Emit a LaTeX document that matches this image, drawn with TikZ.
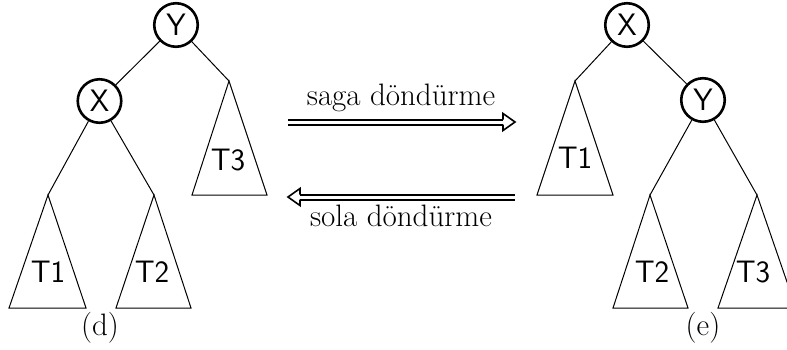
\documentclass[tikz,border=0pt]{standalone}
\usepackage{fontspec}
\begin{document}
\begin{tikzpicture}[x=1pt,y=-1pt,
  keynode/.style={circle,draw,line width=2.6pt,minimum size=43.5pt,inner sep=0pt,font=\fontsize{31}{33}\selectfont\sffamily},
  edge/.style={line width=1pt},
  tri/.style={line width=1pt},
  tlabel/.style={inner sep=0pt,font=\fontsize{31}{33}\selectfont\sffamily},
  serif/.style={inner sep=0pt,anchor=base,font=\fontsize{31}{34}\selectfont},
  dbl/.style={line width=2pt,double distance=3pt},
  head/.style={line width=1.6pt,line join=miter}]
\useasboundingbox (0,0) rectangle (787,349);
\clip (0,0) rectangle (787,349);
% ---- left tree (d)
\node[keynode] (Y1) at (176,25) {Y};
\node[keynode] (X1) at (99.5,101) {X};
\coordinate (l3a) at (229,81);
\coordinate (l1a) at (48,195);
\coordinate (l2a) at (154,195);
\draw[edge] (Y1) -- (X1);
\draw[edge] (Y1) -- (l3a);
\draw[edge] (X1) -- (l1a);
\draw[edge] (X1) -- (l2a);
\draw[tri] (l3a) -- (192,195) -- (267,195) -- cycle;
\draw[tri] (l1a) -- (9,308) -- (86,308) -- cycle;
\draw[tri] (l2a) -- (116,308) -- (191,308) -- cycle;
\node[tlabel] (lT3) at (228,160) {T3};
\node[tlabel] (lT1) at (48,272) {T1};
\node[tlabel] (lT2) at (152,272) {T2};
\node[serif] (d) at (100,335) {(d)};
% ---- right tree (e)
\node[keynode] (X2) at (627,25) {X};
\node[keynode] (Y2) at (703,100) {Y};
\coordinate (r1a) at (575,81);
\coordinate (r2a) at (650,195);
\coordinate (r3a) at (757,195);
\draw[edge] (X2) -- (r1a);
\draw[edge] (X2) -- (Y2);
\draw[edge] (Y2) -- (r2a);
\draw[edge] (Y2) -- (r3a);
\draw[tri] (r1a) -- (537,195) -- (613,195) -- cycle;
\draw[tri] (r2a) -- (613,308) -- (688,308) -- cycle;
\draw[tri] (r3a) -- (718,308) -- (796,308) -- cycle;
\node[tlabel] (rT1) at (575,158) {T1};
\node[tlabel] (rT2) at (652,272) {T2};
\node[tlabel] (rT3) at (753,272) {T3};
\node[serif] (e) at (703,335) {(e)};
% ---- arrows
\coordinate (ra0) at (288,122);
\coordinate (ra1) at (503,122);
\draw[dbl] (ra0) -- (ra1);
\draw[head] (503,119.5) -- (503,113.5) -- (515,122) -- (503,130.5) -- (503,124.5);
\node[serif] (lab1) at (401,105) {saga döndürme};
\coordinate (la0) at (515,197);
\coordinate (la1) at (300,197);
\draw[dbl] (la0) -- (la1);
\draw[head] (300,194.5) -- (300,188.5) -- (288,197) -- (300,205.5) -- (300,199.5);
\node[serif] (lab2) at (401,226) {sola döndürme};
\end{tikzpicture}
\end{document}
